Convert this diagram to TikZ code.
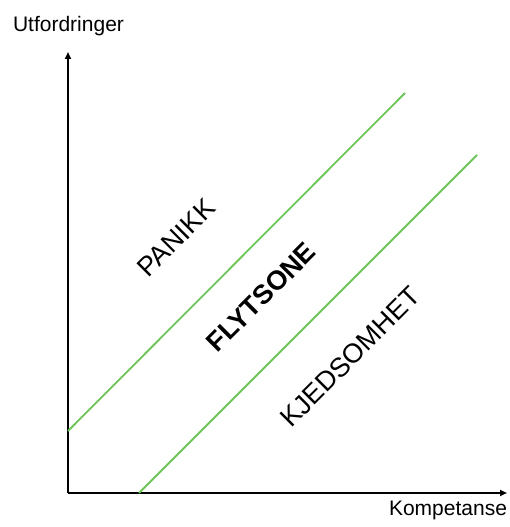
\documentclass[tikz,border=0pt]{standalone}
\usepackage{fontspec}
\setmainfont{Liberation Sans}
\usetikzlibrary{arrows.meta}
\definecolor{zonegreen}{RGB}{108,198,88}
\tikzset{
  axis/.style={line width=2pt, -{Triangle[length=7pt,width=6pt]}},
  border/.style={zonegreen, line width=1.8pt},
  axislabel/.style={inner sep=0pt, font=\fontsize{21}{25}\selectfont},
  zonelabel/.style={inner sep=0pt, rotate=45, font=\fontsize{27}{32}\selectfont}
}
\begin{document}
\begin{tikzpicture}[x=1pt,y=1pt]
  \useasboundingbox (0,0) rectangle (509,527);
  % axes
  \coordinate (o) at (68,34);
  \coordinate (ytop) at (68,475);
  \coordinate (xend) at (507,34);
  \draw[axis] (o) -- (ytop);
  \draw[axis] (o) -- (xend);
  \node[axislabel, anchor=base] (ylab) at (68.5,495) {Utfordringer};
  \node[axislabel, anchor=base] (xlab) at (448,12) {Kompetanse};
  % zone boundaries
  \coordinate (a1) at (68,96);
  \coordinate (a2) at (405,434);
  \coordinate (b1) at (139,34);
  \coordinate (b2) at (477,372);
  \draw[border] (a1) -- (a2);
  \draw[border] (b1) -- (b2);
  % zone names
  \node[zonelabel] (panikk) at (176,289) {PANIKK};
  \node[zonelabel, font=\fontsize{27}{32}\selectfont\bfseries] (flyt) at (261,230) {FLYTSONE};
  \node[zonelabel] (kjed) at (350,170) {KJEDSOMHET};
\end{tikzpicture}
\end{document}
